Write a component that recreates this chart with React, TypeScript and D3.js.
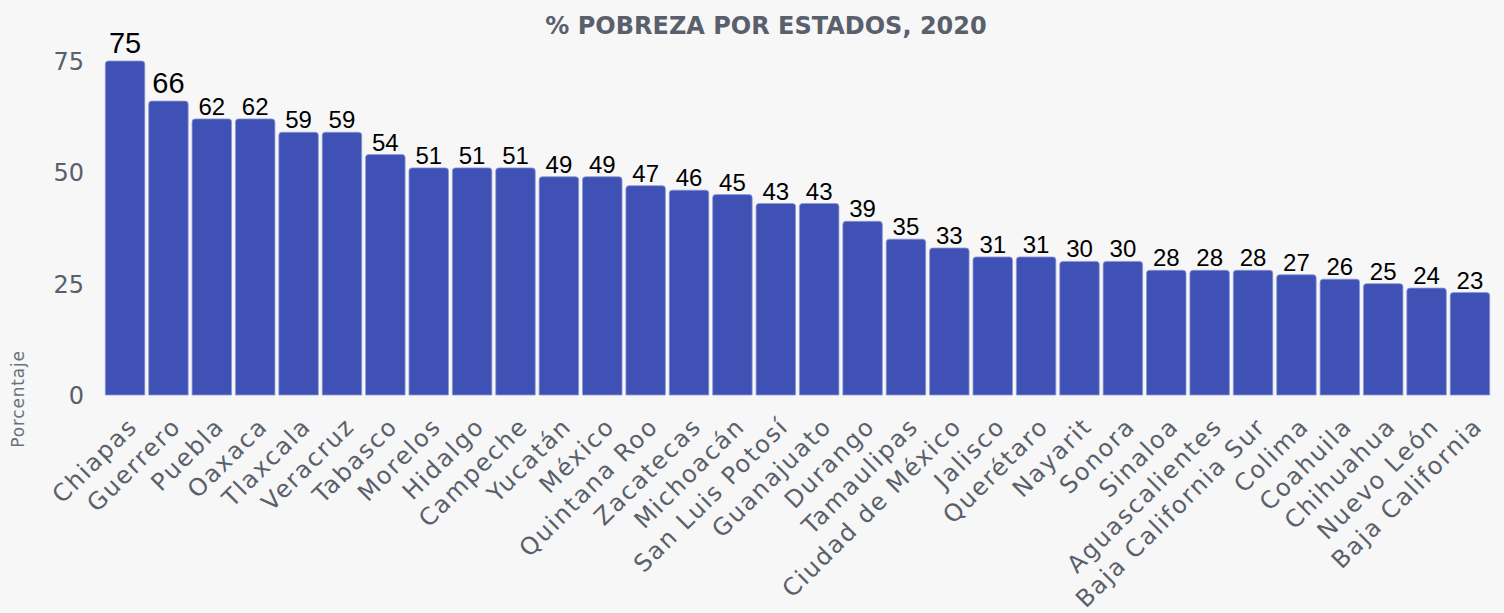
import React, { useEffect, useRef } from 'react';
import * as d3 from 'd3';

const estados = [
  'Chiapas', 'Guerrero', 'Puebla', 'Oaxaca', 'Tlaxcala', 'Veracruz', 'Tabasco', 'Morelos',
  'Hidalgo', 'Campeche', 'Yucatán', 'México', 'Quintana Roo', 'Zacatecas', 'Michoacán',
  'San Luis Potosí', 'Guanajuato', 'Durango', 'Tamaulipas', 'Ciudad de México', 'Jalisco',
  'Querétaro', 'Nayarit', 'Sonora', 'Sinaloa', 'Aguascalientes', 'Baja California Sur',
  'Colima', 'Coahuila', 'Chihuahua', 'Nuevo León', 'Baja California',
];
const pobreza = [
  75, 66, 62, 62, 59, 59, 54, 51, 51, 51, 49, 49, 47, 46, 45, 43, 43, 39, 35, 33, 31, 31,
  30, 30, 28, 28, 28, 27, 26, 25, 24, 23,
];
const yTicks = [0, 25, 50, 75];

const width = 1504;
const height = 613;

const App: React.FC = () => {
  const svgRef = useRef<SVGSVGElement>(null);

  useEffect(() => {
    if (!svgRef.current) return;
    const svg = d3.select(svgRef.current);
    svg.selectAll('*').remove();

    const data = estados.map((e, i) => ({ estado: e, valor: pobreza[i] }));
    const axisFont = '"DejaVu Sans", sans-serif';
    const gris = '#5a606b';

    svg.append('rect').attr('width', width).attr('height', height).attr('fill', '#f7f7f7');

    const x = d3.scaleBand()
      .domain(estados)
      .range([104, 1491])
      .paddingInner(0.09)
      .paddingOuter(0.03);

    const y = d3.scaleLinear().domain([0, 75]).range([395, 61]);

    // barras con esquinas superiores redondeadas
    const r = 3;
    svg.append('g')
      .selectAll('path')
      .data(data)
      .join('path')
      .attr('fill', '#3f51b5')
      .attr('stroke', '#8d98d6')
      .attr('stroke-width', 0.8)
      .attr('d', d => {
        const x0 = x(d.estado)!;
        const w = x.bandwidth();
        const y0 = y(d.valor);
        const yb = y(0);
        return `M${x0},${yb}V${y0 + r}Q${x0},${y0} ${x0 + r},${y0}H${x0 + w - r}Q${x0 + w},${y0} ${x0 + w},${y0 + r}V${yb}Z`;
      });

    // valores (los dos primeros algo más grandes, como en el original)
    svg.append('g')
      .selectAll('text')
      .data(data)
      .join('text')
      .attr('x', d => x(d.estado)! + x.bandwidth() / 2)
      .attr('y', (d, i) => y(d.valor) - (i < 2 ? 8 : 4))
      .attr('text-anchor', 'middle')
      .attr('font-family', '"Liberation Sans", Arial, sans-serif')
      .attr('font-size', (d, i) => (i < 2 ? 29 : 24))
      .attr('fill', '#000')
      .text(d => d.valor);

    // eje y
    const yAxis = svg.append('g')
      .attr('transform', 'translate(84,0)')
      .call(d3.axisLeft(y).tickValues(yTicks).tickSize(0).tickPadding(0));
    yAxis.select('.domain').remove();
    yAxis.selectAll('text')
      .attr('font-family', axisFont)
      .attr('font-size', 24)
      .attr('fill', gris)
      .attr('dy', '0.36em');

    // eje x
    const xAxis = svg.append('g')
      .attr('transform', `translate(0,${y(0)})`)
      .call(d3.axisBottom(x).tickSize(0).tickPadding(0));
    xAxis.select('.domain').remove();
    xAxis.selectAll('text')
      .attr('font-family', axisFont)
      .attr('font-size', 24)
      .attr('letter-spacing', 1.8)
      .attr('fill', gris)
      .attr('text-anchor', 'end')
      .attr('dy', '0.7em')
      .attr('transform', 'translate(2,21) rotate(-45)');

    // título
    svg.append('text')
      .attr('x', 766)
      .attr('y', 34)
      .attr('text-anchor', 'middle')
      .attr('font-family', axisFont)
      .attr('font-weight', 700)
      .attr('font-size', 24)
      .attr('fill', gris)
      .text('% POBREZA POR ESTADOS, 2020');

    // etiqueta eje y
    svg.append('text')
      .attr('transform', 'translate(24,399) rotate(-90)')
      .attr('text-anchor', 'middle')
      .attr('font-family', axisFont)
      .attr('font-size', 17)
      .attr('letter-spacing', 0.8)
      .attr('fill', '#6b7079')
      .text('Porcentaje');
  }, []);

  return (
    <svg
      ref={svgRef}
      width={width}
      height={height}
      style={{ position: 'absolute', left: 0, top: 0, display: 'block' }}
    />
  );
};

export default App;
